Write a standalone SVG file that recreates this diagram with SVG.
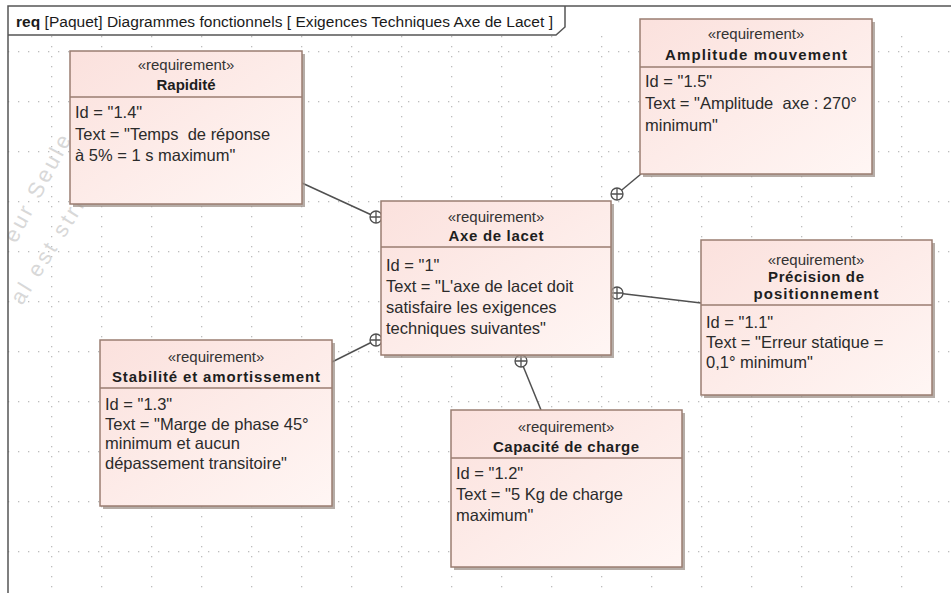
<svg xmlns="http://www.w3.org/2000/svg" width="951" height="593" viewBox="0 0 951 593">
  <defs>
    <linearGradient id="reqFill" x1="0" y1="0" x2="1" y2="1">
      <stop offset="0" stop-color="#fbe1dd"/>
      <stop offset="1" stop-color="#fff6f4"/>
    </linearGradient>
    <pattern id="gridV" x="1" y="6" width="50" height="10" patternUnits="userSpaceOnUse">
      <rect x="0" y="0" width="1.3" height="1.3" fill="#bdbdbd"/>
    </pattern>
    <pattern id="gridH" x="8" y="1" width="10" height="50" patternUnits="userSpaceOnUse">
      <rect x="0" y="0" width="1.3" height="1.3" fill="#bdbdbd"/>
    </pattern>
    <g id="contain">
      <circle r="6" fill="#ffffff" stroke="#505050" stroke-width="1.3"/>
      <path d="M-6,0 H6 M0,-6 V6" stroke="#505050" stroke-width="1.3"/>
    </g>
  </defs>
  <style>
    .frame { fill: none; stroke: #555555; stroke-width: 1.5; }
    .tab { font-family: "Liberation Sans", Arial, sans-serif; font-size: 15.5px; fill: #1a1a1a; }
    .tab .kw { font-weight: bold; }
    .mark { font-family: "Liberation Sans", Arial, sans-serif; font-size: 22px; fill: #d8d8d8; letter-spacing: 3px; }
    .shadow { fill: #9d918a; opacity: 0.75; }
    .box { fill: url(#reqFill); stroke: #9a7d71; stroke-width: 1.5; }
    .sep { stroke: #9a7d71; stroke-width: 1.5; }
    .st { font-family: "Liberation Sans", Arial, sans-serif; font-size: 15px; fill: #333333; text-anchor: middle; }
    .nm { font-family: "Liberation Sans", Arial, sans-serif; font-size: 15px; font-weight: bold; fill: #1e1e1e; text-anchor: middle; }
    .bd { font-family: "Liberation Sans", Arial, sans-serif; font-size: 16.5px; fill: #2b2b2b; }
    .link { stroke: #505050; stroke-width: 1.5; fill: none; }
  </style>

  <!-- background and grid -->
  <rect width="951" height="593" fill="#ffffff"/>
  <rect x="8" y="36" width="943" height="557" fill="url(#gridV)"/>
  <rect x="8" y="36" width="943" height="557" fill="url(#gridH)"/>

  <!-- faint watermark -->
  <text class="mark" transform="translate(16,244) rotate(-62)">eur Seule</text>
  <text class="mark" transform="translate(22,306) rotate(-58)">al est stric</text>

  <!-- diagram frame -->
  <g id="frame">
    <path class="frame" d="M8,593 V6 H951"/>
    <path class="frame" d="M8,35 H556 L565,27 V6"/>
    <text class="tab" x="16" y="27" textLength="537" lengthAdjust="spacing"><tspan class="kw">req</tspan> [Paquet] Diagrammes fonctionnels [ Exigences Techniques Axe de Lacet ]</text>
  </g>

  <!-- containment connectors -->
  <g id="connectors">
    <line class="link" x1="302" y1="183" x2="376" y2="217"/>
    <line class="link" x1="641" y1="174" x2="617" y2="194"/>
    <line class="link" x1="617" y1="293" x2="701" y2="303"/>
    <line class="link" x1="332" y1="362" x2="376" y2="340"/>
    <line class="link" x1="521" y1="361" x2="541" y2="410"/>
    <use href="#contain" x="376" y="217"/>
    <use href="#contain" x="617" y="194"/>
    <use href="#contain" x="617" y="293"/>
    <use href="#contain" x="376" y="340"/>
    <use href="#contain" x="521" y="361"/>
  </g>

  <g id="rapidite">
    <rect class="shadow" x="73" y="54" width="232" height="153"/>
    <rect class="box" x="70" y="51" width="232" height="153"/>
    <line class="sep" x1="70" y1="97" x2="302" y2="97"/>
    <text class="st" x="186" y="70">«requirement»</text>
    <text class="nm" x="186" y="90" textLength="59" lengthAdjust="spacing">Rapidité</text>
    <text class="bd" x="75" y="117.5">Id = "1.4"</text>
    <text class="bd" x="75" y="139.5" xml:space="preserve">Text = "Temps  de réponse</text>
    <text class="bd" x="75" y="161">à 5% = 1 s maximum"</text>
  </g>

  <g id="amplitude">
    <rect class="shadow" x="643" y="22" width="232" height="155"/>
    <rect class="box" x="640" y="19" width="232" height="155"/>
    <line class="sep" x1="640" y1="67" x2="872" y2="67"/>
    <text class="st" x="756" y="39">«requirement»</text>
    <text class="nm" x="756" y="60" textLength="182" lengthAdjust="spacing">Amplitude mouvement</text>
    <text class="bd" x="645" y="86.5">Id = "1.5"</text>
    <text class="bd" x="645" y="108.5" xml:space="preserve">Text = "Amplitude  axe : 270°</text>
    <text class="bd" x="645" y="130.5">minimum"</text>
  </g>

  <g id="axe-de-lacet">
    <rect class="shadow" x="384" y="204" width="230" height="154"/>
    <rect class="box" x="381" y="201" width="230" height="154"/>
    <line class="sep" x1="381" y1="247" x2="611" y2="247"/>
    <text class="st" x="496" y="221.5">«requirement»</text>
    <text class="nm" x="496" y="240.5" textLength="95" lengthAdjust="spacing">Axe de lacet</text>
    <text class="bd" x="386" y="270.5">Id = "1"</text>
    <text class="bd" x="386" y="291.5">Text = "L'axe de lacet doit</text>
    <text class="bd" x="386" y="312.5">satisfaire les exigences</text>
    <text class="bd" x="386" y="333.5">techniques suivantes"</text>
  </g>

  <g id="precision">
    <rect class="shadow" x="704" y="243" width="231" height="155"/>
    <rect class="box" x="701" y="240" width="231" height="155"/>
    <line class="sep" x1="701" y1="305" x2="932" y2="305"/>
    <text class="st" x="816" y="265">«requirement»</text>
    <text class="nm" x="816" y="282" textLength="96" lengthAdjust="spacing">Précision de</text>
    <text class="nm" x="816" y="298.5" textLength="125" lengthAdjust="spacing">positionnement</text>
    <text class="bd" x="706" y="327.5">Id = "1.1"</text>
    <text class="bd" x="706" y="347.5">Text = "Erreur statique =</text>
    <text class="bd" x="706" y="367.5">0,1° minimum"</text>
  </g>

  <g id="stabilite">
    <rect class="shadow" x="103" y="343" width="232" height="166"/>
    <rect class="box" x="100" y="340" width="232" height="166"/>
    <line class="sep" x1="100" y1="388" x2="332" y2="388"/>
    <text class="st" x="216" y="361.5">«requirement»</text>
    <text class="nm" x="216" y="382" textLength="208" lengthAdjust="spacing">Stabilité et amortissement</text>
    <text class="bd" x="105" y="410">Id = "1.3"</text>
    <text class="bd" x="105" y="429.5">Text = "Marge de phase 45°</text>
    <text class="bd" x="105" y="449">minimum et aucun</text>
    <text class="bd" x="105" y="468.5">dépassement transitoire"</text>
  </g>

  <g id="capacite">
    <rect class="shadow" x="454" y="413" width="231" height="157"/>
    <rect class="box" x="451" y="410" width="231" height="157"/>
    <line class="sep" x1="451" y1="458" x2="682" y2="458"/>
    <text class="st" x="566" y="431.5">«requirement»</text>
    <text class="nm" x="566" y="451.5" textLength="146" lengthAdjust="spacing">Capacité de charge</text>
    <text class="bd" x="456" y="478.5">Id = "1.2"</text>
    <text class="bd" x="456" y="500">Text = "5 Kg de charge</text>
    <text class="bd" x="456" y="521">maximum"</text>
  </g>
</svg>
